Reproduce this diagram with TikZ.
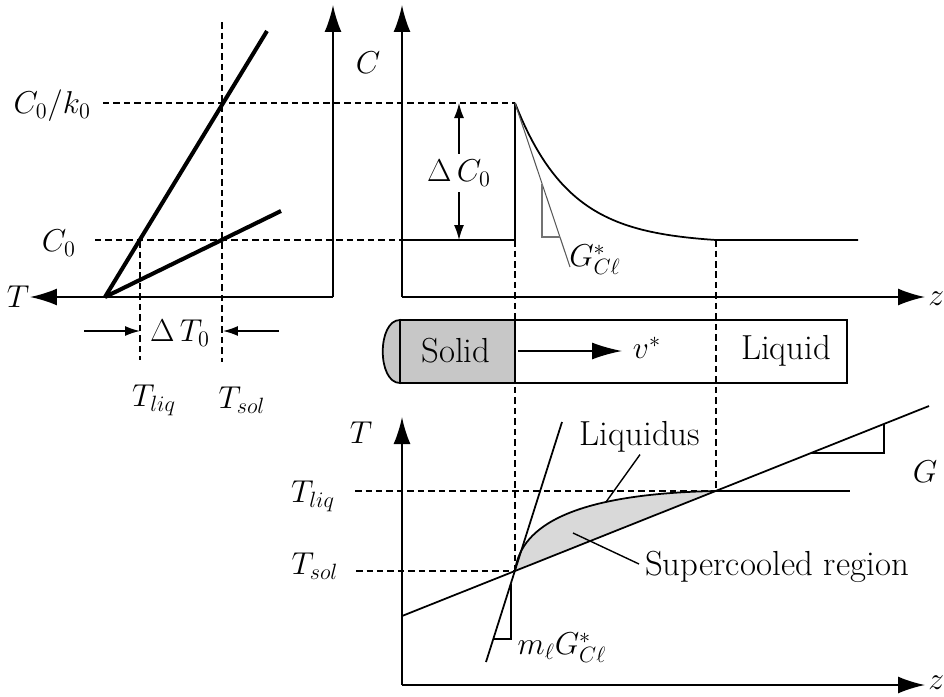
\RequirePackage{fix-cm}
\documentclass[tikz,border=0pt]{standalone}
\usetikzlibrary{arrows.meta}
\begin{document}
\begin{tikzpicture}[x=0.02cm, y=-0.02cm, font=\fontsize{18}{21}\selectfont,
  axis/.style={line width=1.1pt, -{Latex[length=5.4mm, width=3.4mm]}},
  guide/.style={line width=0.9pt, dash pattern=on 1.3mm off 0.8mm},
  curve/.style={line width=1pt},
  thickline/.style={line width=2.3pt},
  dimarrow/.style={line width=0.8pt, -{Latex[length=3mm, width=2mm]}},
  slope/.style={line width=0.6pt},
  leader/.style={line width=0.8pt},
  word/.style={font=\fontsize{19.8}{23}\selectfont}
]
\useasboundingbox (0,0) rectangle (944,697);

% phase diagram (left)
\coordinate (pd0) at (333,297);
\coordinate (melt) at (105,297);
\draw[axis] (pd0) -- (30,297);
\draw[axis] (pd0) -- (333,5);
\node (labT) at (18,297) {$T$};
\draw[thickline] (melt) -- (267,31);
\draw[thickline] (melt) -- (281,211);
\draw[guide] (222,22) -- (222,362);
\draw[guide] (140,241) -- (140,360);
\draw[guide] (103,103) -- (515,103);
\draw[guide] (95,240) -- (402,240);
\node[anchor=east] (labCk) at (97,106) {$C_0/k_0$};
\node[anchor=east] (labC0) at (82,243) {$C_0$};
\node (dT) at (180,333) {$\Delta\,T_0$};
\draw[dimarrow] (84,331) -- (140,331);
\draw[dimarrow] (279,331) -- (223,331);
\node (Tliq1) at (154,400) {$T_{liq}$};
\node (Tsol1) at (242,400) {$T_{sol}$};

% concentration profile (top right)
\coordinate (cz0) at (402,297);
\draw[axis] (cz0) -- (402,5);
\draw[axis] (cz0) -- (925,297);
\node (labC) at (368,63) {$C$};
\node[anchor=west, inner sep=0pt] (labz1) at (928,299) {$z$};
\draw[curve] (402,240) -- (515,240) -- (515,103)
  -- plot[domain=515:716, samples=60]
     (\x,{240-137*(exp(-(\x-515)/55)-exp(-201/55))/(1-exp(-201/55))}) -- (858,240);
\node (dC) at (459,173) {$\Delta\,C_0$};
\draw[dimarrow] (dC.north) -- (459,103);
\draw[dimarrow] (dC.south) -- (459,240);
\draw[slope, black!65] (515,103) -- (570,267);
\draw[slope, black!55] (542,184) -- (542,237) -- (560,237);
\node (GC) at (595,260) {$G^*_{C\ell}$};

% sample bar
\draw[curve, fill=black!22] (400,320) .. controls (377,320) and (377,383) .. (400,383) -- cycle;
\draw[curve, fill=black!22] (400,320) rectangle (515,383);
\draw[curve] (515,320) rectangle (847,383);
\node[word] (solid) at (456,351) {Solid};
\node[word] (liquid) at (786,351) {Liquid};
\node (vel) at (647,348) {$v^*$};
\draw[line width=0.9pt, -{Latex[length=6mm, width=3.4mm]}] (518,351) -- (622,351);

\draw[guide] (515,240) -- (515,571);
\draw[guide] (716,240) -- (716,491);

% temperature profile (bottom)
\coordinate (tz0) at (402,685);
\coordinate (front) at (515,571);
\coordinate (tip) at (716,491);
\fill[black!15] (front) .. controls (520,532) and (560,494) .. (tip) -- cycle;
\draw[axis] (tz0) -- (402,417);
\draw[axis] (tz0) -- (925,685);
\node (labT2) at (361,433) {$T$};
\node[anchor=west, inner sep=0pt] (labz2) at (928,683) {$z$};
\node (Tliq2) at (313,496) {$T_{liq}$};
\node (Tsol2) at (315,566) {$T_{sol}$};
\draw[guide] (355,491) -- (tip);
\draw[guide] (356,571) -- (front);
\draw[curve] (tip) -- (850,491);
\draw[curve] (front) .. controls (520,532) and (560,494) .. (tip);
\draw[curve] (402,616) -- (929,406);
\draw[slope] (811,453) -- (884,453) -- (884,424);
\node (labG) at (925,472) {$G$};
\draw[curve] (486,662) -- (562,422);
\draw[slope] (511,584) -- (511,639) -- (493,639);
\node (mG) at (562,648) {$m_\ell G^*_{C\ell}$};
\node[word, inner sep=1pt] (liqlab) at (640,437) {Liquidus};
\coordinate (liqfoot) at (606,502);
\draw[leader] (liqlab.south) -- (liqfoot);
\node[word] (suplab) at (777,567) {Supercooled region};
\coordinate (supfoot) at (573,533);
\draw[leader] (suplab.west) ++(0,-3) -- (supfoot);
\end{tikzpicture}
\end{document}
